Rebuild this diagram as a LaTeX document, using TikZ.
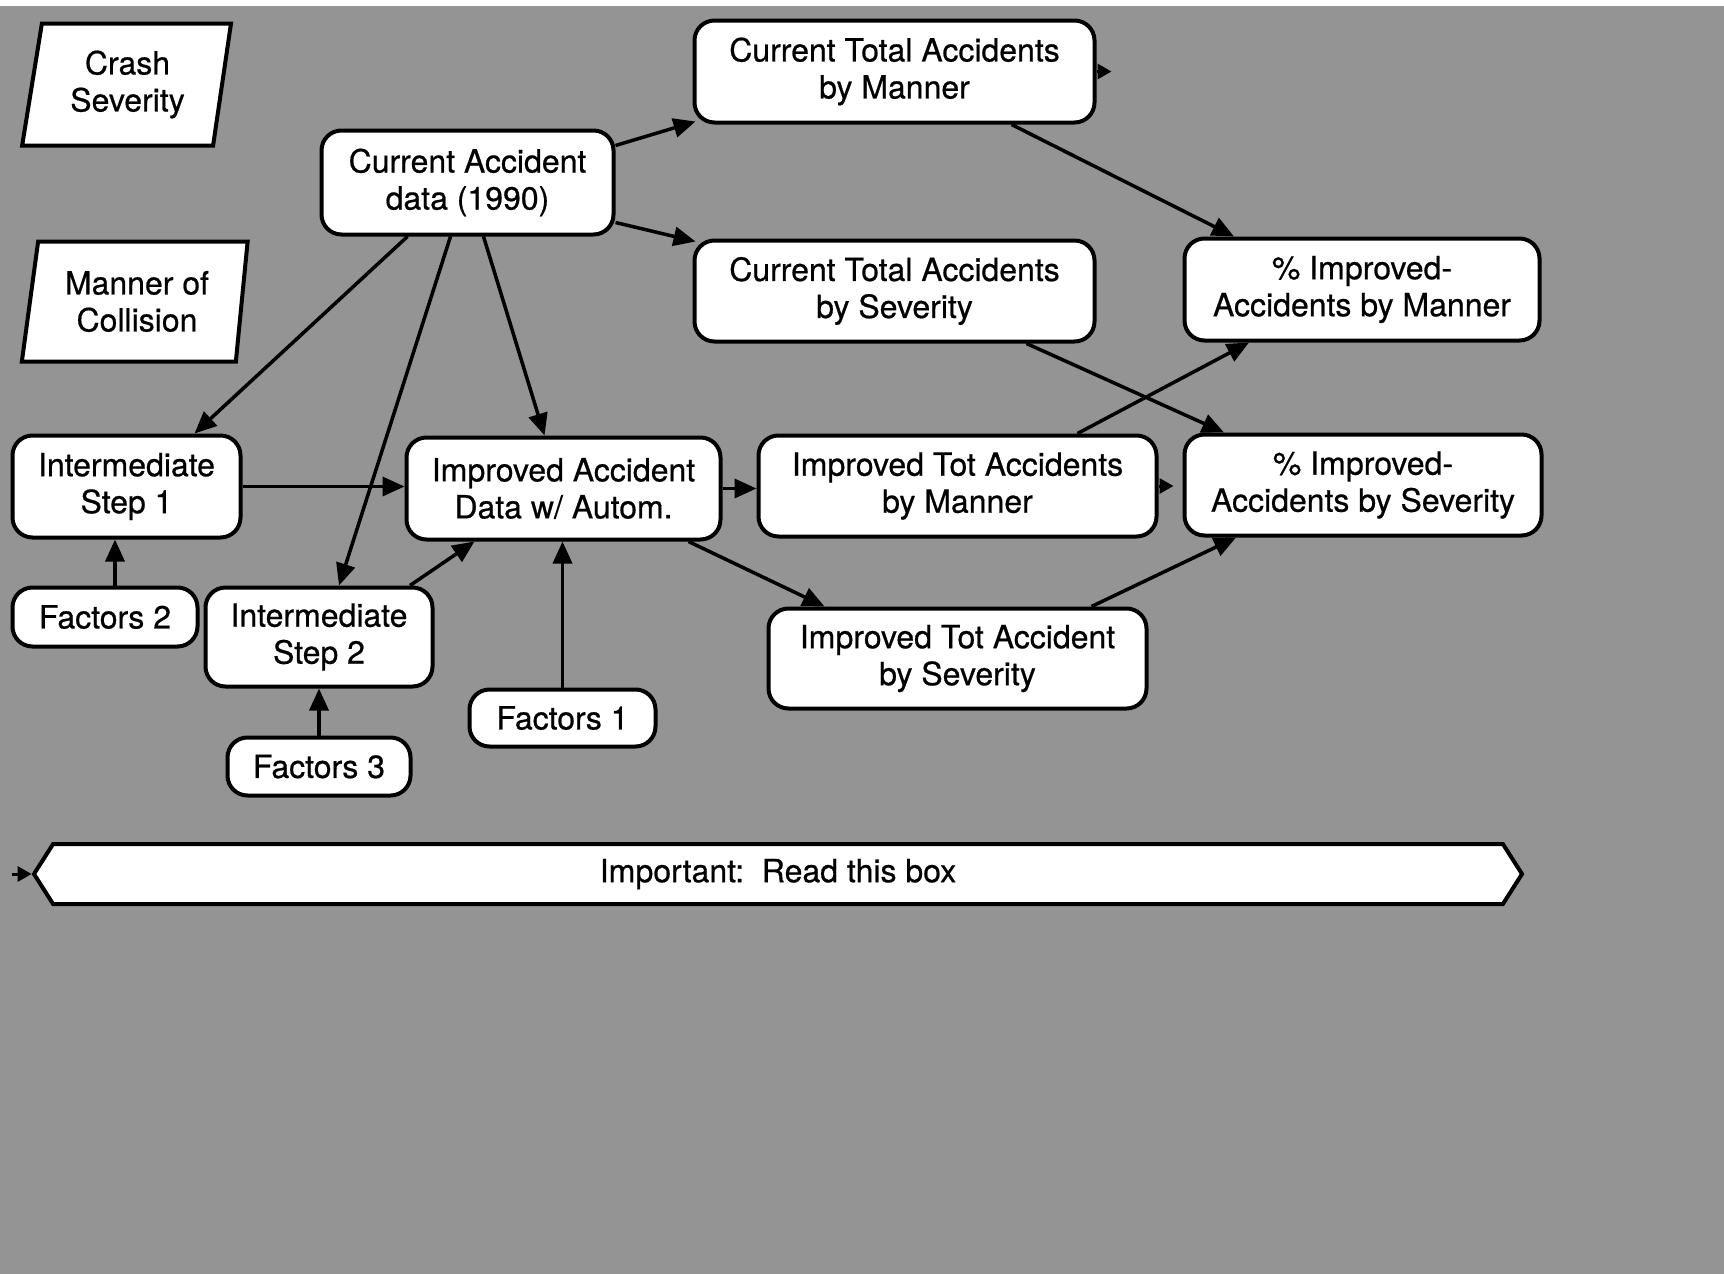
\documentclass[tikz,border=0pt]{standalone}
\usepackage{fontspec}
\setmainfont{TeX Gyre Heros}[FakeBold=0.6]
\usetikzlibrary{arrows.meta,shapes.geometric,shapes.symbols,calc}
\definecolor{bggray}{gray}{0.58}
\begin{document}
\begin{tikzpicture}[x=1pt,y=-1pt,
  txt/.style={font=\fontsize{32pt}{37pt}\selectfont, align=center, inner sep=0pt},
  box/.style={txt, draw, line width=4pt, fill=white, rounded corners=20pt},
  para/.style={txt, draw, line width=4pt, fill=white, trapezium, trapezium stretches=true},
  conn/.style={line width=3.5pt, -{Triangle[length=22pt,width=19pt]}},
  tinyarr/.style={line width=3pt, -{Triangle[length=14pt,width=15pt]}}]
\fill[white] (0,0) rectangle (1724,1274);
\fill[bggray] (0,6) rectangle (1724,1274);
\useasboundingbox (0,0) rectangle (1724,1274);

% input parallelograms
\node[para, trapezium left angle=79, trapezium right angle=100, minimum width=209pt, minimum height=122pt] (cs) at (127.5,84.5) {Crash\\Severity};
\node[para, trapezium left angle=79, trapezium right angle=98, minimum width=226pt, minimum height=120pt] (mc) at (137,301.5) {Manner of\\Collision};

% boxes
\node[box, minimum width=292pt, minimum height=104pt] (cad) at (467.5,182.5) {Current Accident\\data (1990)};
\node[box, minimum width=400pt, minimum height=102pt] (ctm) at (894.5,71.5) {Current Total Accidents\\by Manner};
\node[box, minimum width=400pt, minimum height=101pt] (cts) at (894.5,291) {Current Total Accidents\\by Severity};
\node[box, minimum width=355pt, minimum height=102pt] (pim) at (1362,289.5) {\% Improved-\\Accidents by Manner};
\node[box, minimum width=228pt, minimum height=102pt] (is1) at (126.5,486.5) {Intermediate\\Step 1};
\node[box, minimum width=314pt, minimum height=102pt] (iad) at (563.5,488.5) {Improved Accident\\Data w/ Autom.};
\node[box, minimum width=398pt, minimum height=101pt] (itm) at (957.5,486) {Improved Tot Accidents\\by Manner};
\node[box, minimum width=357pt, minimum height=101pt] (pis) at (1363,485) {\% Improved-\\Accidents by Severity};
\node[box, minimum width=378pt, minimum height=100pt] (its) at (957.5,658.5) {Improved Tot Accident\\by Severity};
\node[box, minimum width=185pt, minimum height=59pt] (f2) at (105,617) {Factors 2};
\node[box, minimum width=227pt, minimum height=99pt] (is2) at (319,637) {Intermediate\\Step 2};
\node[box, minimum width=183pt, minimum height=58pt] (f3) at (319,766.5) {Factors 3};
\node[box, minimum width=186pt, minimum height=57pt] (f1) at (562.5,718) {Factors 1};

\node[txt, signal, signal to=west and east, signal pointer angle=115, draw, line width=4pt, fill=white, minimum width=1488pt, minimum height=60pt] (imp) at (778,874) {Important:\ \ Read this box};

% connectors
\draw[conn] ([yshift=37pt]cad.east) -- ([xshift=3pt,yshift=3pt]ctm.south west);
\draw[conn] ([yshift=-40pt]cad.east) -- ([xshift=3pt,yshift=-3pt]cts.north west);
\draw[conn] ([xshift=-60pt]cad.south) -- ([xshift=68pt]is1.north);
\draw[conn] ([xshift=-17pt]cad.south) -- ([xshift=20pt]is2.north);
\draw[conn] ([xshift=16pt]cad.south) -- ([xshift=-19pt]iad.north);
\draw[conn] (is1.east) -- (is1.east -| iad.west);
\draw[conn] ([xshift=10pt]f2.north) -- ([xshift=-11.5pt]is1.south);
\draw[conn] (f3.north) -- (is2.south);
\draw[conn] (f1.north) -- (f1.north |- iad.south);
\draw[conn] ([xshift=91pt]is2.north) -- ([xshift=-89pt]iad.south);
\draw[conn] (iad.east) -- (iad.east -| itm.west);
\draw[conn] ([xshift=125pt]iad.south) -- ([xshift=-133pt]its.north);
\draw[conn] ([xshift=117pt]ctm.south) -- ([xshift=-128pt]pim.north);
\draw[conn] ([xshift=132pt]cts.south) -- ([xshift=-139pt]pis.north);
\draw[conn] ([xshift=120pt]itm.north) -- ([xshift=-113pt]pim.south);
\draw[conn] ([xshift=134pt]its.north) -- ([xshift=-127pt]pis.south);

% stub arrowheads
\coordinate (t1) at ([xshift=15pt]ctm.east);
\draw[tinyarr] (ctm.east) -- (t1);
\coordinate (t2) at ([xshift=15pt]itm.east);
\draw[tinyarr] (itm.east) -- (t2);
\coordinate (t3) at ([xshift=-20pt]imp.west);
\draw[tinyarr] (t3) -- (imp.west);
\end{tikzpicture}
\end{document}
